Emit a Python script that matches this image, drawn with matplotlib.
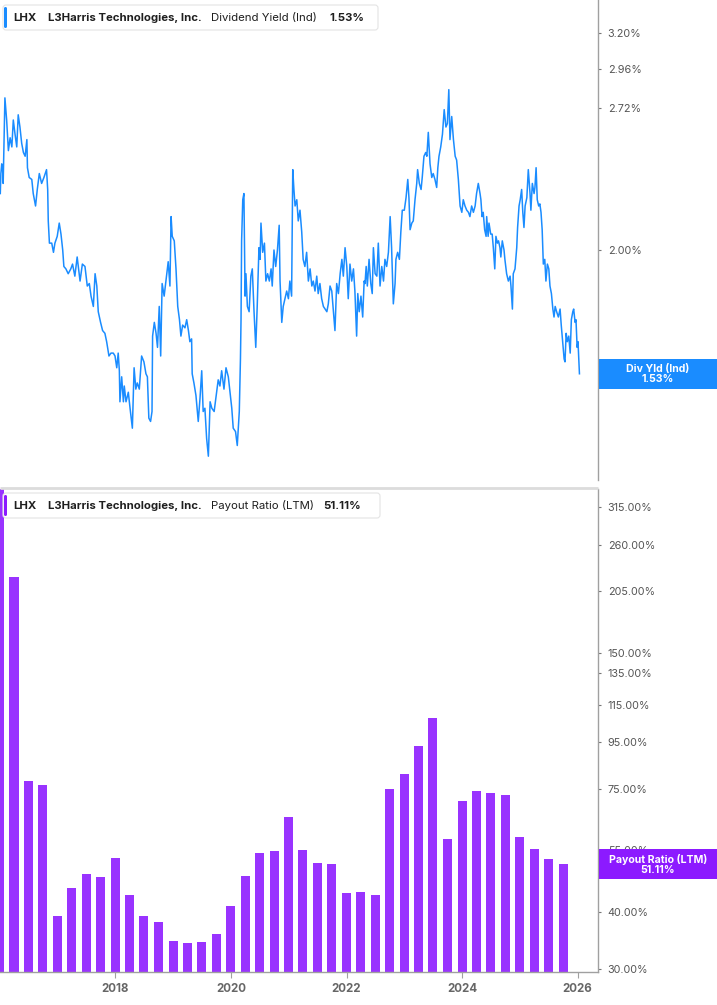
import matplotlib
matplotlib.use('Agg')
import matplotlib.pyplot as plt
import matplotlib.patches as mpatches
from matplotlib.ticker import FixedLocator, FixedFormatter, NullLocator
import pandas as pd

plt.rcParams['font.family'] = ['Inter', 'DejaVu Sans']

# ---------------- data ----------------
ticker = "LHX"
company = "L3Harris Technologies, Inc."
top_metric = "Dividend Yield (Ind)"
bottom_metric = "Payout Ratio (LTM)"
top_last_label = "1.53%"
bottom_last_label = "51.11%"
top_tag = "Div Yld (Ind)"
bottom_tag = "Payout Ratio (LTM)"
top_last = 1.53
bottom_last = 51.11

div_years = [
    2016.01, 2016.02, 2016.035, 2016.05, 2016.06, 2016.075, 2016.09, 2016.12, 2016.15, 2016.18,
    2016.21, 2016.235, 2016.265, 2016.295, 2016.32, 2016.35, 2016.38, 2016.41, 2016.44, 2016.47,
    2016.48, 2016.51, 2016.555, 2016.58, 2016.62, 2016.65, 2016.685, 2016.725, 2016.765, 2016.81,
    2016.83, 2016.84, 2016.86, 2016.90, 2016.93, 2016.955, 2016.995, 2017.03, 2017.06, 2017.09,
    2017.11, 2017.145, 2017.185, 2017.23, 2017.26, 2017.30, 2017.34, 2017.39, 2017.43, 2017.475,
    2017.515, 2017.55, 2017.58, 2017.62, 2017.65, 2017.68, 2017.705, 2017.745, 2017.78, 2017.82,
    2017.85, 2017.89, 2017.925, 2017.965, 2017.995, 2018.025, 2018.05, 2018.07, 2018.08, 2018.11,
    2018.14, 2018.155, 2018.185, 2018.225, 2018.255, 2018.295, 2018.325, 2018.355, 2018.38, 2018.415,
    2018.455, 2018.495, 2018.53, 2018.555, 2018.58, 2018.61, 2018.635, 2018.645, 2018.675, 2018.705,
    2018.73, 2018.76, 2018.785, 2018.81, 2018.845, 2018.89, 2018.915, 2018.945, 2018.965, 2018.985,
    2019.02, 2019.05, 2019.08, 2019.11, 2019.135, 2019.165, 2019.205, 2019.235, 2019.265, 2019.29,
    2019.32, 2019.33, 2019.36, 2019.395, 2019.435, 2019.465, 2019.495, 2019.52, 2019.55, 2019.58,
    2019.61, 2019.64, 2019.67, 2019.71, 2019.745, 2019.78, 2019.81, 2019.84, 2019.88, 2019.915,
    2019.955, 2019.985, 2020.015, 2020.04, 2020.08, 2020.11, 2020.145, 2020.165, 2020.175, 2020.185,
    2020.205, 2020.225, 2020.245, 2020.26, 2020.285, 2020.315, 2020.345, 2020.37, 2020.40, 2020.43,
    2020.455, 2020.485, 2020.505, 2020.52, 2020.55, 2020.58, 2020.605, 2020.635, 2020.665, 2020.695,
    2020.715, 2020.745, 2020.775, 2020.805, 2020.835, 2020.85, 2020.88, 2020.905, 2020.935, 2020.965,
    2020.995, 2021.02, 2021.05, 2021.07, 2021.09, 2021.11, 2021.14, 2021.165, 2021.195, 2021.225,
    2021.25, 2021.28, 2021.31, 2021.34, 2021.37, 2021.40, 2021.425, 2021.455, 2021.485, 2021.51,
    2021.54, 2021.57, 2021.60, 2021.63, 2021.66, 2021.685, 2021.715, 2021.745, 2021.77, 2021.80,
    2021.83, 2021.86, 2021.89, 2021.92, 2021.945, 2021.975, 2022.005, 2022.03, 2022.06, 2022.09,
    2022.12, 2022.145, 2022.175, 2022.195, 2022.22, 2022.25, 2022.28, 2022.305, 2022.32, 2022.34,
    2022.36, 2022.39, 2022.42, 2022.445, 2022.465, 2022.495, 2022.525, 2022.55, 2022.58, 2022.61,
    2022.64, 2022.665, 2022.695, 2022.725, 2022.755, 2022.78, 2022.81, 2022.84, 2022.855, 2022.885,
    2022.915, 2022.94, 2022.965, 2023.00, 2023.03, 2023.06, 2023.08, 2023.10, 2023.13, 2023.155,
    2023.185, 2023.215, 2023.23, 2023.26, 2023.29, 2023.31, 2023.34, 2023.37, 2023.39, 2023.415,
    2023.445, 2023.475, 2023.50, 2023.53, 2023.56, 2023.58, 2023.60, 2023.63, 2023.66, 2023.69,
    2023.72, 2023.745, 2023.77, 2023.79, 2023.82, 2023.85, 2023.88, 2023.905, 2023.935, 2023.965,
    2023.995, 2024.02, 2024.05, 2024.08, 2024.11, 2024.135, 2024.165, 2024.195, 2024.225, 2024.25,
    2024.28, 2024.31, 2024.325, 2024.345, 2024.365, 2024.39, 2024.415, 2024.425, 2024.45, 2024.465,
    2024.495, 2024.52, 2024.54, 2024.565, 2024.585, 2024.61, 2024.63, 2024.655, 2024.67, 2024.695,
    2024.725, 2024.74, 2024.77, 2024.80, 2024.83, 2024.845, 2024.87, 2024.885, 2024.915, 2024.945,
    2024.96, 2024.985, 2025.005, 2025.03, 2025.05, 2025.07, 2025.09, 2025.12, 2025.145, 2025.175,
    2025.19, 2025.215, 2025.245, 2025.26, 2025.28, 2025.30, 2025.325, 2025.345, 2025.365, 2025.385,
    2025.405, 2025.43, 2025.45, 2025.475, 2025.50, 2025.52, 2025.545, 2025.57, 2025.59, 2025.61,
    2025.635, 2025.665, 2025.695, 2025.715, 2025.74, 2025.765, 2025.78, 2025.80, 2025.82, 2025.845,
    2025.87, 2025.89, 2025.915, 2025.93, 2025.955, 2025.97, 2025.99, 2026.005, 2026.03,
]
div_yield = [
    2.26, 2.36, 2.41, 2.38, 2.31, 2.55, 2.78, 2.65, 2.48, 2.55,
    2.50, 2.65, 2.57, 2.50, 2.68, 2.61, 2.52, 2.47, 2.45, 2.54,
    2.39, 2.34, 2.33, 2.26, 2.20, 2.28, 2.36, 2.31, 2.34, 2.38,
    2.28, 2.13, 2.03, 2.03, 1.99, 2.03, 2.06, 2.12, 2.07, 2.00,
    1.93, 1.92, 1.90, 1.92, 1.94, 1.89, 1.97, 1.87, 1.94, 1.93,
    1.85, 1.86, 1.81, 1.77, 1.90, 1.85, 1.75, 1.71, 1.68, 1.67,
    1.64, 1.59, 1.60, 1.60, 1.59, 1.55, 1.60, 1.54, 1.44, 1.52,
    1.44, 1.49, 1.44, 1.47, 1.42, 1.36, 1.55, 1.48, 1.50, 1.48,
    1.59, 1.57, 1.53, 1.52, 1.39, 1.38, 1.41, 1.66, 1.71, 1.67,
    1.62, 1.77, 1.59, 1.86, 1.81, 1.90, 1.95, 1.85, 2.15, 2.06,
    2.04, 1.92, 1.77, 1.72, 1.66, 1.70, 1.69, 1.72, 1.68, 1.64,
    1.65, 1.53, 1.50, 1.46, 1.38, 1.45, 1.54, 1.41, 1.42, 1.33,
    1.28, 1.44, 1.42, 1.41, 1.46, 1.51, 1.49, 1.54, 1.48, 1.55,
    1.52, 1.47, 1.42, 1.36, 1.35, 1.31, 1.41, 1.58, 1.72, 2.04,
    2.23, 2.26, 1.81, 1.90, 1.77, 1.75, 1.89, 1.92, 1.75, 1.62,
    1.77, 2.01, 1.96, 2.12, 1.99, 2.03, 1.87, 1.90, 1.87, 1.92,
    1.85, 2.00, 1.93, 2.00, 2.11, 1.87, 1.71, 1.77, 1.80, 1.83,
    1.80, 1.87, 1.81, 2.38, 2.28, 2.20, 2.23, 2.13, 2.18, 2.08,
    1.96, 1.93, 1.99, 1.87, 1.92, 1.85, 1.87, 1.83, 1.89, 1.82,
    1.86, 1.80, 1.77, 1.76, 1.75, 1.78, 1.85, 1.83, 1.76, 1.68,
    1.86, 1.82, 1.90, 1.96, 1.89, 2.01, 1.93, 1.80, 1.94, 1.87,
    1.92, 1.83, 1.66, 1.82, 1.75, 1.81, 1.73, 1.87, 1.86, 1.93,
    1.85, 1.96, 1.86, 1.82, 2.01, 1.90, 1.89, 2.03, 1.85, 1.93,
    1.87, 1.96, 1.93, 1.99, 2.15, 2.01, 1.78, 1.86, 1.96, 1.99,
    1.96, 2.08, 2.18, 2.18, 2.24, 2.33, 2.24, 2.09, 2.12, 2.13,
    2.23, 2.31, 2.38, 2.31, 2.28, 2.34, 2.45, 2.47, 2.45, 2.58,
    2.41, 2.34, 2.36, 2.33, 2.29, 2.39, 2.45, 2.50, 2.57, 2.71,
    2.61, 2.63, 2.83, 2.54, 2.67, 2.54, 2.45, 2.43, 2.33, 2.20,
    2.17, 2.23, 2.20, 2.18, 2.17, 2.15, 2.20, 2.17, 2.20, 2.26,
    2.31, 2.26, 2.23, 2.15, 2.17, 2.09, 2.06, 2.15, 2.06, 2.12,
    2.07, 2.07, 2.01, 1.92, 2.06, 2.03, 2.04, 2.01, 1.97, 2.04,
    2.00, 1.96, 1.90, 1.87, 1.89, 1.85, 1.76, 1.90, 1.92, 2.01,
    2.10, 2.20, 2.23, 2.28, 2.17, 2.10, 2.20, 2.24, 2.38, 2.26,
    2.18, 2.31, 2.26, 2.29, 2.39, 2.23, 2.20, 2.21, 2.17, 2.09,
    1.94, 1.96, 1.87, 1.94, 1.92, 1.85, 1.82, 1.76, 1.73, 1.77,
    1.75, 1.73, 1.76, 1.70, 1.64, 1.58, 1.57, 1.67, 1.64, 1.66,
    1.60, 1.72, 1.75, 1.76, 1.71, 1.72, 1.62, 1.64, 1.53,
]

bar_dates = [
    "2015-12-31", "2016-03-31", "2016-06-30", "2016-09-30",
    "2016-12-31", "2017-03-31", "2017-06-30", "2017-09-30",
    "2017-12-31", "2018-03-31", "2018-06-30", "2018-09-30",
    "2018-12-31", "2019-03-31", "2019-06-30", "2019-09-30",
    "2019-12-31", "2020-03-31", "2020-06-30", "2020-09-30",
    "2020-12-31", "2021-03-31", "2021-06-30", "2021-09-30",
    "2021-12-31", "2022-03-31", "2022-06-30", "2022-09-30",
    "2022-12-31", "2023-03-31", "2023-06-30", "2023-09-30",
    "2023-12-31", "2024-03-31", "2024-06-30", "2024-09-30",
    "2024-12-31", "2025-03-31", "2025-06-30", "2025-09-30",
]
payout = [
    420.0, 220.3, 78.1, 76.5, 39.3, 45.3, 48.6, 47.9, 52.7, 43.7,
    39.3, 38.1, 34.6, 34.2, 34.5, 35.9, 41.3, 48.2, 54.1, 54.7,
    64.9, 55.0, 51.5, 51.2, 44.2, 44.5, 43.7, 75.0, 81.1, 93.3,
    107.6, 58.1, 70.5, 74.1, 73.4, 72.7, 58.8, 55.3, 52.5, 51.11,
]

yield_ticks = [2.00, 2.72, 2.96, 3.20]
payout_ticks = [30, 40, 50, 55, 75, 95, 115, 135, 150, 205, 260, 315]
year_ticks = [2018, 2020, 2022, 2024, 2026]

# ---------------- styling ----------------
W, H = 717, 1005
BLUE = '#1a8cff'
PURPLE_BAR = '#9933ff'
PURPLE = '#8c1aff'
AXIS_GRAY = '#a0a0a0'
TICK_TXT = '#555555'
X_RANGE = (2016.005, 2026.351)


def to_year(s):
    d = pd.Timestamp(s)
    return d.year + (d.dayofyear - 0.5) / (366 if d.is_leap_year else 365)


bar_x = [to_year(s) for s in bar_dates]

fig = plt.figure(figsize=(W / 100, H / 100), dpi=100)
fig.patch.set_facecolor('white')

ax1 = fig.add_axes([0, 1 - 480 / H, 598 / W, 480 / H])
ax2 = fig.add_axes([0, 1 - 972 / H, 598 / W, 483 / H])

# top: dividend yield
ax1.plot(div_years, div_yield, color=BLUE, lw=1.1, solid_joinstyle='round')
ax1.set_yscale('log')
ax1.set_ylim(1.2157, 3.436)
ax1.set_xlim(*X_RANGE)

# bottom: payout ratio
ax2.bar(bar_x, payout, width=0.156, color=PURPLE_BAR, edgecolor='none')
ax2.set_yscale('log')
ax2.set_ylim(29.55, 345.0)
ax2.set_xlim(*X_RANGE)

for ax, ticks in ((ax1, yield_ticks), (ax2, payout_ticks)):
    ax.set_facecolor('white')
    for s in ('top', 'left', 'bottom'):
        ax.spines[s].set_visible(False)
    ax.spines['right'].set_color(AXIS_GRAY)
    ax.spines['right'].set_linewidth(1.0)
    ax.yaxis.tick_right()
    ax.yaxis.set_major_locator(FixedLocator(ticks))
    ax.yaxis.set_major_formatter(FixedFormatter([f"{t:.2f}%" for t in ticks]))
    ax.yaxis.set_minor_locator(NullLocator())
    ax.tick_params(axis='y', which='major', length=2, width=0.8, color='#777777',
                   pad=5, labelsize=7.8, labelcolor=TICK_TXT)

ax1.set_xticks([])
ax2.spines['bottom'].set_visible(True)
ax2.spines['bottom'].set_color(AXIS_GRAY)
ax2.spines['bottom'].set_linewidth(1.0)
ax2.set_xticks(year_ticks)
ax2.set_xticklabels([str(y) for y in year_ticks], fontweight='bold')
ax2.xaxis.set_minor_locator(NullLocator())
ax2.tick_params(axis='x', length=4, width=0.8, color=AXIS_GRAY, pad=4,
                labelsize=8.3, labelcolor='#666666')

# ---------------- overlay (pixel coordinates) ----------------
ov = fig.add_axes([0, 0, 1, 1], zorder=10)
ov.set_xlim(0, W)
ov.set_ylim(H, 0)
ov.axis('off')
ov.patch.set_alpha(0)

# panel separator
ov.plot([0, 598], [487.5, 487.5], color='#dcdcdc', lw=2, solid_capstyle='butt')


def legend(y0, width, color, metric, value):
    ov.add_patch(mpatches.FancyBboxPatch((3, y0), width, 25,
                                         boxstyle='round,pad=0,rounding_size=3',
                                         fc='white', ec='#e4e4e4', lw=0.8))
    ov.add_patch(mpatches.FancyBboxPatch((4, y0 + 2), 3, 21,
                                         boxstyle='round,pad=0,rounding_size=1.5',
                                         fc=color, ec='none'))
    yc = y0 + 12.5
    kw = dict(va='center', ha='left', fontsize=8.2, color='#1f1f1f')
    ov.text(13, yc, ticker, fontweight='bold', **kw)
    ov.text(48, yc, company, fontweight='bold', **kw)
    ov.text(211, yc, metric, fontweight='normal', **kw)
    ov.text(value[1], yc, value[0], fontweight='bold', **kw)


legend(5, 375, BLUE, top_metric, (top_last_label, 329))
legend(493, 377, PURPLE, bottom_metric, (bottom_last_label, 323))


def tag(ax, yval, color, line1, line2):
    disp_y = ax.transData.transform((X_RANGE[0], yval))[1]
    yc = H - disp_y
    ov.add_patch(mpatches.Rectangle((598.5, yc - 15), W - 598.5, 30, fc=color, ec='none'))
    ov.text(658, yc - 5.2, line1, ha='center', va='center', color='white',
            fontsize=7.6, fontweight='bold')
    ov.text(658, yc + 5.6, line2, ha='center', va='center', color='white',
            fontsize=7.6, fontweight='bold')


tag(ax1, top_last, BLUE, top_tag, top_last_label)
tag(ax2, bottom_last, PURPLE, bottom_tag, bottom_last_label)

fig.savefig('out.png', dpi=100, facecolor='white')
